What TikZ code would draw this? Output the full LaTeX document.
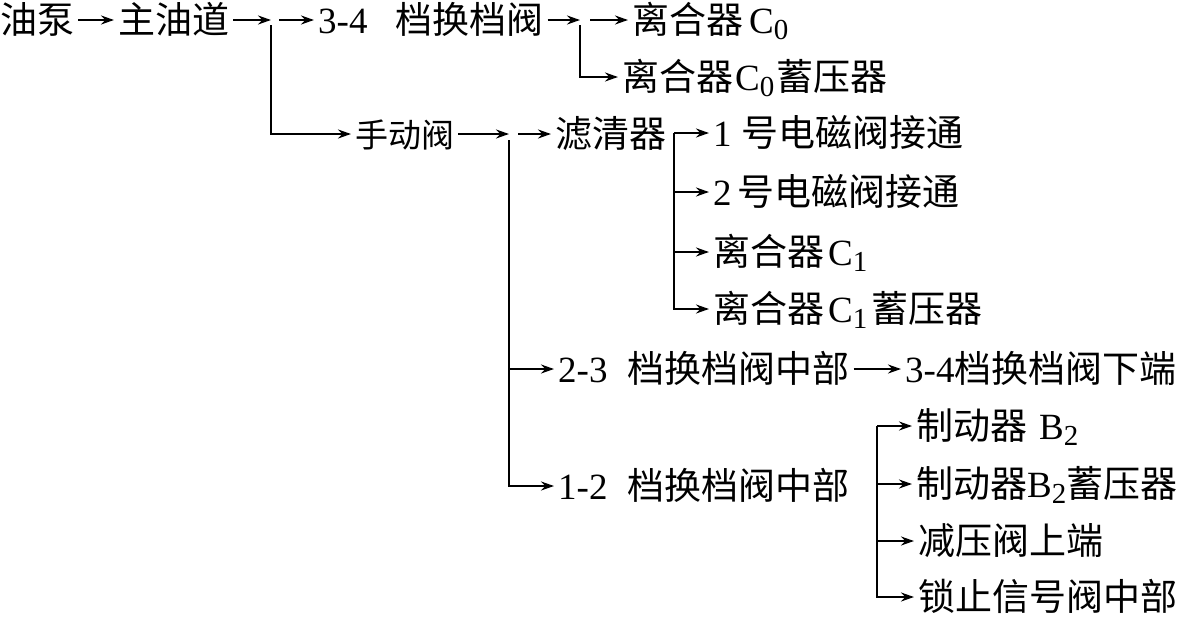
\documentclass[tikz,border=0pt]{standalone}
\usepackage{fontspec}
\setmainfont{Liberation Serif}[Scale=1.0]
\newfontfamily\cjk{Noto Sans CJK SC}
\usetikzlibrary{arrows.meta}
\newcommand\subx[1]{\raisebox{-0.18em}{\fontsize{29}{29}\selectfont #1}}
\tikzset{
  txt/.style={anchor=west, inner xsep=4pt, inner ysep=0pt,
    font=\fontsize{37}{37}\selectfont, text height=29pt, text depth=3pt},
  arr/.style={draw=black, line width=2.3pt, line join=miter,
    -{Stealth[length=13pt,width=9pt]}},
}
\begin{document}
\begin{tikzpicture}[x=1pt,y=-1pt]
\useasboundingbox[fill=white] (0,0) rectangle (1186,616);
% nodes
\node[txt] (pump) at (-4,20) {\cjk 油泵};
\node[txt] (main) at (114,20) {\cjk 主油道};
\coordinate (j1) at (271,20);
\coordinate (j1v) at (271,25);
\coordinate (j1b) at (279,20);
\node[txt] (v34) at (314,20) {3-4\hspace{28pt}{\cjk 档换档阀}};
\coordinate (j2) at (580,20);
\coordinate (j2v) at (580,25);
\coordinate (j2b) at (590,20);
\node[txt] (c0) at (628,20) {{\cjk 离合器}\hspace{6pt}C\subx{0}};
\node[txt] (c0a) at (618,77) {{\cjk 离合器}\hspace{2pt}C\subx{0}\hspace{2pt}{\cjk 蓄压器}};
\node[txt, font=\fontsize{33}{33}\selectfont] (manual) at (351,134) {\cjk 手动阀};
\coordinate (j3) at (509,134);
\coordinate (j3v) at (509,140);
\coordinate (j3b) at (518,134);
\node[txt] (filt) at (551,134) {\cjk 滤清器};
\coordinate (br1) at (674,133);
\node[txt] (s1) at (709,133) {1\hspace{10pt}{\cjk 号电磁阀接通}};
\node[txt] (s2) at (709,192) {2\hspace{6pt}{\cjk 号电磁阀接通}};
\node[txt] (s3) at (709,252) {{\cjk 离合器}\hspace{4pt}C\subx{1}};
\node[txt] (s4) at (709,309) {{\cjk 离合器}\hspace{4pt}C\subx{1}\hspace{4pt}{\cjk 蓄压器}};
\node[txt] (v23) at (554,369) {2-3\hspace{20pt}{\cjk 档换档阀中部}};
\node[txt] (v34d) at (901,369) {3-4{\cjk 档换档阀下端}};
\node[txt] (v12) at (554,486) {1-2\hspace{20pt}{\cjk 档换档阀中部}};
\coordinate (br2) at (877,426);
\node[txt] (t1) at (912,426) {{\cjk 制动器}\hspace{12pt}B\subx{2}};
\node[txt] (t2) at (912,484) {{\cjk 制动器}B\subx{2}{\cjk 蓄压器}};
\node[txt] (t3) at (914,541) {\cjk 减压阀上端};
\node[txt] (t4) at (914,597) {\cjk 锁止信号阀中部};
% connectors
\draw[arr] (pump.east) -- (main.west);
\draw[arr] (main.east) -- (j1);
\draw[arr] (j1b) -- (v34.west);
\draw[arr] (j1v) |- (manual.west);
\draw[arr] (v34.east) -- (j2);
\draw[arr] (j2b) -- (c0.west);
\draw[arr] (j2v) |- (c0a.west);
\draw[arr] (manual.east) -- (j3);
\draw[arr] (j3b) -- (filt.west);
\draw[arr] (j3v) |- (v23.west);
\draw[arr] (j3v) |- (v12.west);
\draw[arr] (v23.east) -- (v34d.west);
\draw[arr] (br1) -- (s1.west);
\draw[arr] (br1 |- s2.west) -- (s2.west);
\draw[arr] (br1 |- s3.west) -- (s3.west);
\draw[arr] (br1) |- (s4.west);
\draw[arr] (br2) -- (t1.west);
\draw[arr] (br2 |- t2.west) -- (t2.west);
\draw[arr] (br2 |- t3.west) -- (t3.west);
\draw[arr] (br2) |- (t4.west);
\end{tikzpicture}
\end{document}
